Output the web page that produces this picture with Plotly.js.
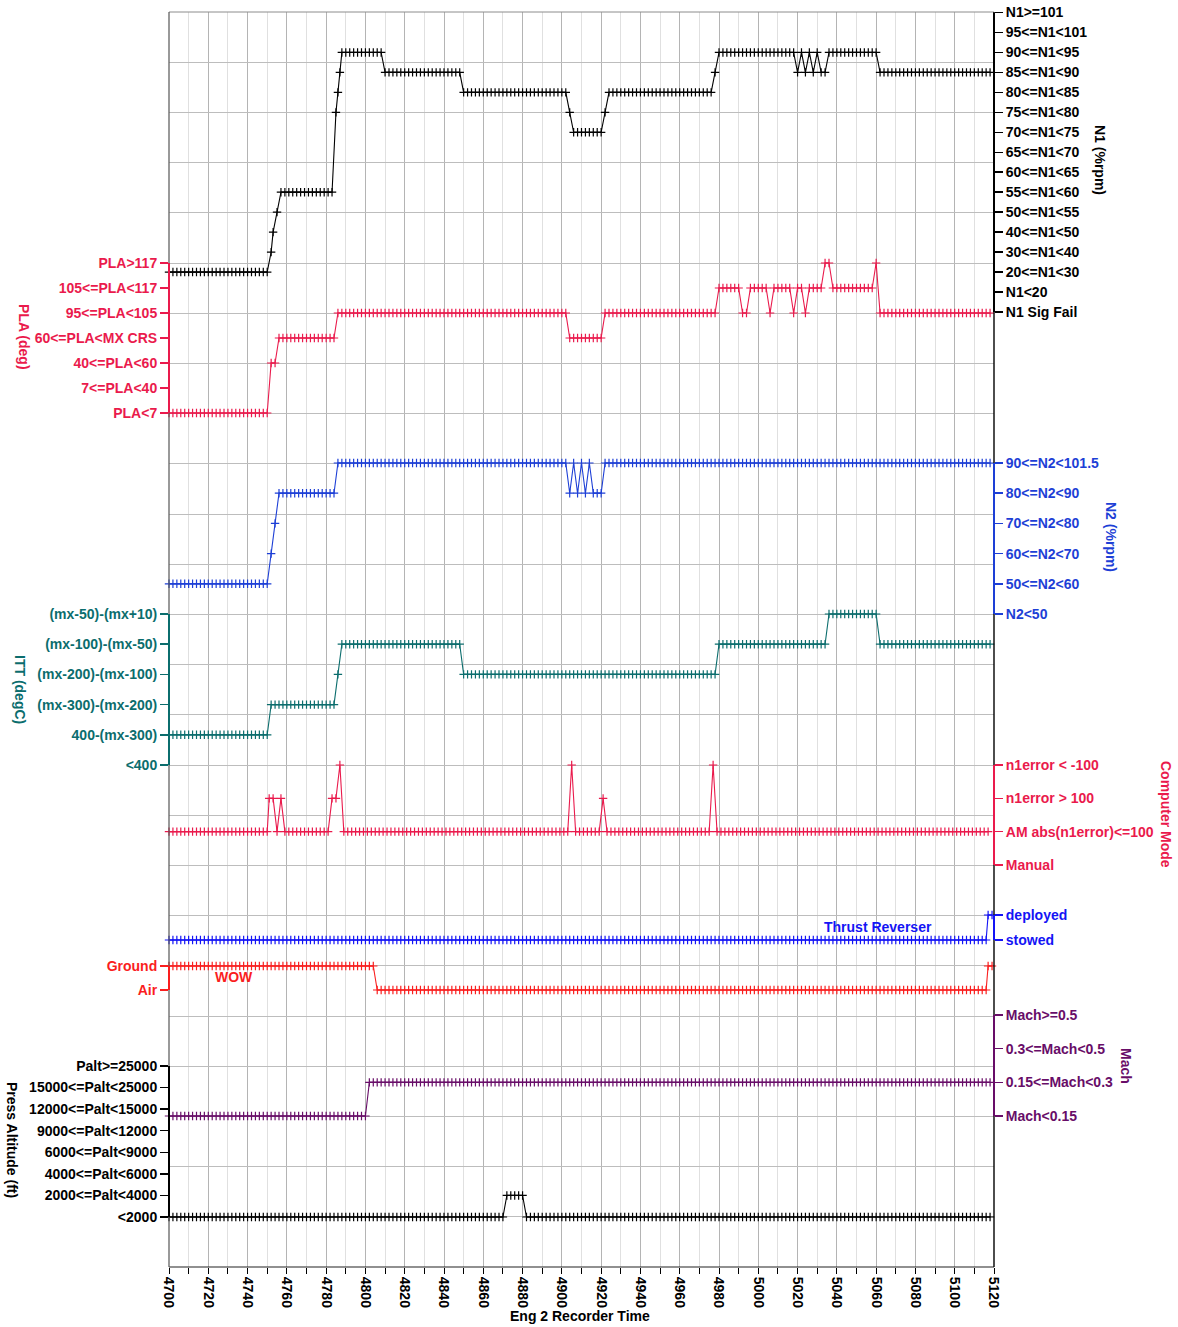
<!DOCTYPE html>
<html><head><meta charset="utf-8">
<script src="https://cdn.plot.ly/plotly-3.0.1.min.js"></script>
<style>html,body{margin:0;padding:0;background:#fff}#chart{width:1178px;height:1327px}</style>
</head><body><div id="chart"></div>
<script>
// ---------------- DATA ----------------
// Each segment: [startTime, endTime, levelIndex]; one sample every 2 s inside a segment.
const timeRange = [4700, 5120];

const n1Labels = ["N1 Sig Fail","N1<20","20<=N1<30","30<=N1<40","40<=N1<50","50<=N1<55","55<=N1<60","60<=N1<65","65<=N1<70","70<=N1<75","75<=N1<80","80<=N1<85","85<=N1<90","90<=N1<95","95<=N1<101","N1>=101"];
const n1Segments = [[4700,4750,2],[4752,4752,3],[4753,4753,4],[4755,4755,5],[4757,4783,6],[4785,4785,10],[4786,4786,11],[4787,4787,12],[4788,4808,13],[4810,4848,12],[4850,4902,11],[4904,4904,10],[4906,4920,9],[4922,4922,10],[4924,4976,11],[4978,4978,12],[4980,5018,13],[5020,5020,12],[5022,5022,13],[5024,5024,12],[5026,5026,13],[5028,5028,12],[5030,5030,13],[5032,5034,12],[5036,5060,13],[5062,5118,12]];

const plaLabels = ["PLA<7","7<=PLA<40","40<=PLA<60","60<=PLA<MX CRS","95<=PLA<105","105<=PLA<117","PLA>117"];
const plaSegments = [[4700,4750,0],[4752,4754,2],[4756,4784,3],[4786,4902,4],[4904,4920,3],[4922,4978,4],[4980,4990,5],[4992,4994,4],[4996,5004,5],[5006,5006,4],[5008,5016,5],[5018,5018,4],[5020,5022,5],[5024,5024,4],[5026,5032,5],[5034,5036,6],[5038,5058,5],[5060,5060,6],[5062,5118,4]];

const n2Labels = ["N2<50","50<=N2<60","60<=N2<70","70<=N2<80","80<=N2<90","90<=N2<101.5"];
const n2Segments = [[4700,4750,1],[4752,4752,2],[4754,4754,3],[4756,4784,4],[4786,4902,5],[4904,4904,4],[4906,4906,5],[4908,4908,4],[4910,4910,5],[4912,4912,4],[4914,4914,5],[4916,4920,4],[4922,5118,5]];

const ittLabels = ["<400","400-(mx-300)","(mx-300)-(mx-200)","(mx-200)-(mx-100)","(mx-100)-(mx-50)","(mx-50)-(mx+10)"];
const ittSegments = [[4700,4750,1],[4752,4784,2],[4786,4786,3],[4788,4848,4],[4850,4978,3],[4980,5034,4],[5036,5060,5],[5062,5118,4]];

const cmLabels = ["Manual","AM abs(n1error)<=100","n1error > 100","n1error < -100"];
const cmSegments = [[4700,4750,1],[4751,4753,2],[4755,4755,1],[4757,4757,2],[4759,4781,1],[4783,4785,2],[4787,4787,3],[4789,4903,1],[4905,4905,3],[4907,4919,1],[4921,4921,2],[4923,4975,1],[4977,4977,3],[4979,5117,1]];

const trLabels = ["stowed","deployed"];
const trSegments = [[4700,5116,0],[5117,5119,1]];

const wowLabels = ["Air","Ground"];
const wowSegments = [[4700,4804,1],[4806,5116,0],[5117,5119,1]];

const machLabels = ["Mach<0.15","0.15<=Mach<0.3","0.3<=Mach<0.5","Mach>=0.5"];
const machSegments = [[4700,4800,0],[4802,5118,1]];

const paltLabels = ["<2000","2000<=Palt<4000","4000<=Palt<6000","6000<=Palt<9000","9000<=Palt<12000","12000<=Palt<15000","15000<=Palt<25000","Palt>=25000"];
const paltSegments = [[4700,4870,0],[4872,4880,1],[4882,5118,0]];

// ---------------- LAYOUT HELPERS ----------------
const W = 1178, H = 1327;
const PL = 169, PR = 994, PT = 12, PB = 1267;
const FONT = "'Liberation Sans', Arial, sans-serif";
const px2x = px => (px - PL) / (PR - PL);
const py2y = py => (PB - py) / (PB - PT);
function rangeFor(n, pLow, pHigh) {
  const s = (pLow - pHigh) / (n - 1);
  return [-(PB - pLow) / s, (n - 1) + (pHigh - PT) / s];
}
function expand(segs) {
  const xs = [], ys = [];
  segs.forEach(([a, b, v]) => { for (let t = a; t <= b; t += 2) { xs.push(t); ys.push(v); } });
  return {xs, ys};
}

const panels = [
  {labels:n1Labels, segs:n1Segments, color:'#000000', side:'right', pLow:312, pHigh:12.5, title:'N1 (%rpm)', tx:1100, ty:160, vert:true},
  {labels:plaLabels, segs:plaSegments, color:'#ea1a4c', side:'left', pLow:413, pHigh:263, title:'PLA (deg)', tx:24, ty:337, vert:true},
  {labels:n2Labels, segs:n2Segments, color:'#1d3fd6', side:'right', pLow:614, pHigh:463, title:'N2 (%rpm)', tx:1111, ty:537, vert:true},
  {labels:ittLabels, segs:ittSegments, color:'#0b6d6d', side:'left', pLow:765, pHigh:614, title:'ITT (degC)', tx:20, ty:689, vert:true},
  {labels:cmLabels, segs:cmSegments, color:'#ea1a4c', side:'right', pLow:865, pHigh:765, title:'Computer Mode', tx:1166, ty:814, vert:true},
  {labels:trLabels, segs:trSegments, color:'#1414f5', side:'right', pLow:940, pHigh:915, title:'Thrust Reverser', tx:878, ty:927, vert:false},
  {labels:wowLabels, segs:wowSegments, color:'#fa1e1e', side:'left', pLow:990, pHigh:966, title:'WOW', tx:234, ty:977, vert:false},
  {labels:machLabels, segs:machSegments, color:'#680d68', side:'right', pLow:1116, pHigh:1015, title:'Mach', tx:1126, ty:1066, vert:true},
  {labels:paltLabels, segs:paltSegments, color:'#000000', side:'left', pLow:1217, pHigh:1066, title:'Press Altitude (ft)', tx:12, ty:1140, vert:true}
];

// empty trace so that the main (grid) subplot x/y is created
const traces = [{type: 'scatter', mode: 'markers', x: [], y: [], xaxis: 'x', yaxis: 'y', hoverinfo: 'skip'}];
const shapes = [];
const annotations = [];
const layout = {
  width: W, height: H,
  margin: {l: PL, r: W - PR, t: PT, b: H - PB, pad: 0},
  paper_bgcolor: '#ffffff', plot_bgcolor: 'rgba(0,0,0,0)',
  showlegend: false, hovermode: false,
  font: {family: FONT, size: 14, color: '#000', weight: 'bold'},
  xaxis: {
    range: timeRange, tickmode: 'linear', tick0: 4700, dtick: 20,
    ticks: 'outside', ticklen: 6, tickcolor: '#000', tickwidth: 1,
    tickangle: 90, tickfont: {family: FONT, size: 14, color: '#000', weight: 'bold'},
    showgrid: true, gridcolor: '#b4b4b4', gridwidth: 1, zeroline: false, showline: false,
    minor: {tick0: 4700, dtick: 10, ticks: 'outside', ticklen: 6, tickcolor: '#000', tickwidth: 1, showgrid: true, gridcolor: '#e0e0e0', gridwidth: 1},
    anchor: 'y', fixedrange: true
  },
  xaxis2: {
    range: timeRange, overlaying: 'x', anchor: 'y', showgrid: false, zeroline: false, showline: false,
    showticklabels: false, ticks: '', fixedrange: true
  },
  yaxis: {
    range: [0, 25], tickmode: 'linear', tick0: 0, dtick: 1, showgrid: true, gridcolor: '#bdbdbd', gridwidth: 1,
    showticklabels: false, ticks: '', zeroline: false, showline: false, fixedrange: true
  },
  shapes: shapes, annotations: annotations
};

panels.forEach((p, i) => {
  const ax = i + 2;
  const n = p.labels.length;
  layout['yaxis' + ax] = {
    overlaying: 'y', anchor: 'x2', side: p.side,
    range: rangeFor(n, p.pLow, p.pHigh),
    tickmode: 'array', tickvals: p.labels.map((_, k) => k), ticktext: p.labels,
    ticks: 'outside', ticklen: 8, tickwidth: 1.5, tickcolor: p.color,
    tickfont: {family: FONT, size: 14, color: p.color, weight: 'bold'},
    showgrid: false, zeroline: false, showline: false, fixedrange: true
  };
  const d = expand(p.segs);
  traces.push({
    type: 'scatter', mode: 'lines+markers', x: d.xs, y: d.ys, yaxis: 'y' + ax, xaxis: 'x2',
    line: {color: p.color, width: 1.1},
    marker: {symbol: 'cross-thin', size: 6, color: p.color, line: {color: p.color, width: 1.2}},
    cliponaxis: false, hoverinfo: 'skip'
  });
  shapes.push({type: 'line', xref: 'paper', yref: 'y' + ax, x0: p.side === 'left' ? 0 : 1, x1: p.side === 'left' ? 0 : 1,
    y0: 0, y1: n - 1, line: {color: p.color, width: 2}, layer: 'above'});
  annotations.push({xref: 'paper', yref: 'paper', x: px2x(p.tx), y: py2y(p.ty), text: p.title, showarrow: false,
    textangle: p.vert ? 90 : 0, xanchor: 'center', yanchor: 'middle',
    font: {family: FONT, size: 14, color: p.color, weight: 'bold'}});
});

// plot frame
shapes.unshift(
  {type: 'line', xref: 'paper', yref: 'paper', x0: 0, x1: 1, y0: 1, y1: 1, line: {color: '#8c8c8c', width: 1}, layer: 'above'},
  {type: 'line', xref: 'paper', yref: 'paper', x0: 0, x1: 1, y0: 0, y1: 0, line: {color: '#222', width: 1.2}, layer: 'above'},
  {type: 'line', xref: 'paper', yref: 'paper', x0: 0, x1: 0, y0: 0, y1: 1, line: {color: '#555', width: 1.2}, layer: 'above'},
  {type: 'line', xref: 'paper', yref: 'paper', x0: 1, x1: 1, y0: 0, y1: 1, line: {color: '#000', width: 1.4}, layer: 'above'}
);

annotations.push({xref: 'paper', yref: 'paper', x: px2x(580), y: py2y(1316), text: 'Eng 2 Recorder Time', showarrow: false,
  xanchor: 'center', yanchor: 'middle', font: {family: FONT, size: 14, color: '#000', weight: 'bold'}});

Plotly.newPlot('chart', traces, layout, {staticPlot: true, displayModeBar: false});
</script>
</body></html>
